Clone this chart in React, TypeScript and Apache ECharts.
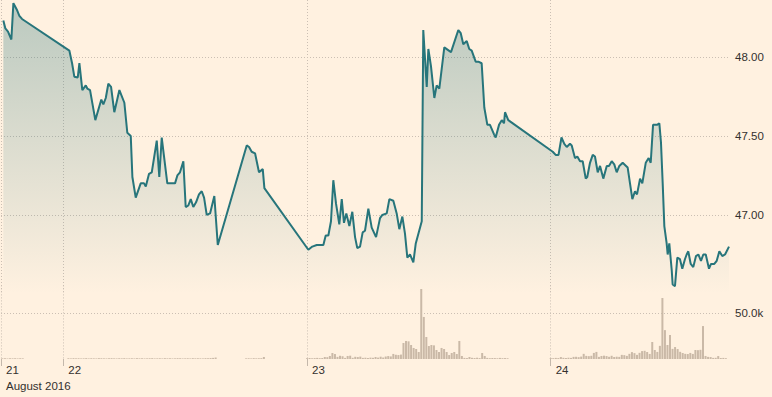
import React, { useEffect, useRef } from "react";
import * as echarts from "echarts";

// Time is expressed in hours counted from 21 Aug 2016 00:00.
const X_MIN = 17.86;
const X_MAX = 89.56;
const dayTicks = [X_MIN, 24, 48, 72];
const dayLabels = ["21", "22", "23", "24"];
const priceTicks = [47, 47.5, 48];
const volumeTicks = [50000];

// Price sessions: [hour, price]
const aug21Prices: [number, number][] = [
  [18.09, 48.23], [18.29, 48.18], [18.55, 48.16], [18.88, 48.11], [19.08, 48.34],
  [19.41, 48.3], [19.67, 48.26], [19.93, 48.24],
];
const aug22DayPrices: [number, number][] = [
  [24.59, 48.04], [24.86, 47.96], [25.08, 47.875], [25.42, 47.87], [25.58, 47.96],
  [25.87, 47.79], [26.21, 47.82], [26.36, 47.8], [26.63, 47.79], [27.15, 47.6],
  [27.74, 47.73], [27.94, 47.7], [28.18, 47.74], [28.43, 47.83], [28.7, 47.81],
  [29.02, 47.65], [29.52, 47.79], [30.01, 47.71], [30.3, 47.52], [30.64, 47.5],
  [30.8, 47.24], [31.13, 47.11], [31.62, 47.2], [31.95, 47.2], [32.12, 47.18],
  [32.44, 47.26], [32.71, 47.27], [33.2, 47.47], [33.45, 47.24], [33.69, 47.49],
  [34.24, 47.2], [34.58, 47.2], [35.0, 47.2], [35.23, 47.25], [35.49, 47.27],
  [35.82, 47.34], [36.05, 47.05], [36.31, 47.06], [36.55, 47.1], [36.8, 47.05],
  [37.07, 47.08], [37.36, 47.13], [37.63, 47.15], [37.86, 47.11], [38.12, 47.0],
  [38.45, 47.01], [38.87, 47.12], [39.21, 46.81],
];
const aug22EveningPrices: [number, number][] = [
  [42.06, 47.44], [42.29, 47.43], [42.55, 47.4], [42.88, 47.39], [43.27, 47.27],
  [43.64, 47.29], [43.8, 47.17],
];
const aug23Prices: [number, number][] = [
  [48.13, 46.78], [48.52, 46.8], [48.96, 46.81], [49.61, 46.81], [49.84, 46.87],
  [50.1, 46.87], [50.36, 46.96], [50.59, 47.22], [50.86, 47.07], [51.18, 46.94],
  [51.42, 47.1], [51.64, 46.95], [51.87, 47.01], [52.17, 46.93], [52.46, 47.02],
  [52.73, 46.86], [52.95, 46.79], [53.22, 46.8], [53.48, 46.89], [53.71, 46.9],
  [54.04, 47.04], [54.37, 46.92], [54.8, 46.86], [55.19, 46.98], [55.42, 47.0],
  [55.85, 47.01], [56.11, 47.1], [56.5, 47.09], [56.83, 47.01], [57.09, 46.91],
  [57.39, 46.99], [57.65, 46.88], [57.88, 46.73], [58.14, 46.75], [58.47, 46.7],
  [58.71, 46.82], [59.3, 46.96], [59.45, 48.17], [59.79, 47.81], [59.95, 48.05],
  [60.21, 47.94], [60.54, 47.74], [60.77, 47.82], [61.03, 47.8], [61.52, 48.06],
  [62.18, 48.03], [62.9, 48.17], [63.14, 48.15], [63.39, 48.08], [63.73, 48.1],
  [63.98, 48.05], [64.22, 48.04], [64.61, 47.97], [64.87, 47.97], [65.2, 47.96],
  [65.46, 47.68], [65.76, 47.57], [66.02, 47.57], [66.42, 47.51], [66.58, 47.49],
  [66.91, 47.57], [67.18, 47.6], [67.4, 47.58], [67.5, 47.65], [67.82, 47.6],
];
const aug24Prices: [number, number][] = [
  [72.2, 47.4], [72.49, 47.38], [72.77, 47.38], [73.06, 47.49], [73.34, 47.45],
  [73.58, 47.43], [73.9, 47.45], [74.07, 47.44], [74.39, 47.36], [74.62, 47.37],
  [74.89, 47.34], [75.15, 47.34], [75.45, 47.23], [75.6, 47.24], [75.87, 47.33],
  [76.14, 47.38], [76.36, 47.37], [76.63, 47.27], [76.86, 47.31], [77.18, 47.23],
  [77.52, 47.31], [77.74, 47.31], [78.01, 47.34], [78.26, 47.32], [78.5, 47.27],
  [78.76, 47.31], [79.09, 47.33], [79.42, 47.31], [79.58, 47.3], [79.81, 47.2],
  [80.04, 47.1], [80.3, 47.15], [80.5, 47.13], [80.8, 47.23], [81.02, 47.2],
  [81.36, 47.33], [81.65, 47.36], [81.85, 47.33], [82.08, 47.57], [82.47, 47.57],
  [82.7, 47.58], [82.86, 47.46], [83.03, 47.2], [83.19, 46.93], [83.42, 46.82],
  [83.52, 46.75], [83.68, 46.82], [83.92, 46.65], [84.01, 46.56], [84.24, 46.55],
  [84.47, 46.73], [84.73, 46.72], [84.96, 46.66], [85.22, 46.72], [85.39, 46.75],
  [85.55, 46.77], [85.79, 46.69], [86.04, 46.67], [86.31, 46.74], [86.54, 46.75],
  [86.8, 46.71], [87.03, 46.75], [87.27, 46.75], [87.59, 46.66], [87.79, 46.69],
  [88.11, 46.69], [88.35, 46.71], [88.61, 46.77], [88.9, 46.74], [89.17, 46.75],
  [89.56, 46.8],
];

// Volume: 15-minute bars, each session with its first bar's hour
const aug21VolumeStart = 18.0;
const aug21Volume = [700, 900, 600, 800, 700, 900, 600, 800, 700];
const aug22DayVolumeStart = 24.5;
const aug22DayVolume = [
  800, 600, 900, 700, 800, 600, 700, 900, 600, 800,
  700, 600, 900, 800, 700, 600, 800, 900, 700, 600,
  800, 700, 900, 600, 700, 800, 600, 900, 700, 800,
  600, 700, 800, 900, 600, 700, 800, 600, 900, 700,
  800, 600, 700, 900, 800, 600, 700, 800, 600, 900,
  700, 800, 700, 600, 900, 800, 1000, 1200, 1600,
];
const aug22EveningVolumeStart = 42.0;
const aug22EveningVolume = [700, 800, 600, 900, 700, 800, 900, 2200];
const aug23VolumeStart = 48.0;
const aug23Volume = [
  900, 1100, 800, 1000, 1200, 900, 1100, 2200, 2000, 3300,
  6500, 5400, 2300, 3500, 3000, 1200, 3300, 3600, 1300, 2400,
  2100, 2600, 1200, 1400, 1100, 1500, 1300, 2200, 1500, 2500,
  1600, 2700, 3200, 2800, 5500, 4600, 4300, 4800, 17400, 19600,
  19200, 15200, 12000, 10900, 7600, 76100, 45700, 23900, 14100, 15200,
  14800, 9800, 7600, 12000, 10900, 7600, 4300, 6500, 7600, 5400,
  19600, 3300, 1200, 1000, 2200, 1300, 1100, 1400, 1000, 6500,
  3300, 1200, 900, 1100, 1000, 800, 1200, 900, 1000, 800,
];
const aug24VolumeStart = 72.0;
const aug24Volume = [
  1100, 900, 1200, 1000, 2100, 1300, 1100, 1400, 1200, 2300,
  2400, 2000, 2600, 5600, 3400, 3100, 3500, 6600, 7700, 2300,
  3300, 3600, 3200, 2400, 3500, 2200, 2500, 2300, 4500, 4200,
  3400, 5600, 7500, 6400, 4500, 6700, 8600, 8900, 7600, 5500,
  18500, 9800, 7700, 14300, 66300, 31400, 15200, 26100, 11000, 13000,
  10800, 7800, 6500, 5600, 5400, 6600, 5500, 9800, 9600, 10000,
  35800, 3300, 2300, 2100, 1200, 1300, 3200, 1100, 1200, 900,
];

const FONT = '"Liberation Sans", Arial, Helvetica, sans-serif';
const TEXT = "#33302e";
const GRID = "#cbbfb3";
const BG = "#fff1e0";

function sessionBars(start: number, vols: number[]): [number, number][] {
  return vols.map((v, i) => [start + i * 0.25, v]);
}

export default function App() {
  const ref = useRef<HTMLDivElement>(null);
  useEffect(() => {
    if (!ref.current) return;
    const chart = echarts.init(ref.current, undefined, { renderer: "svg" });
    const priceData = [
      ...aug21Prices,
      ...aug22DayPrices,
      ...aug22EveningPrices,
      ...aug23Prices,
      ...aug24Prices,
    ];
    const volumeData = [
      ...sessionBars(aug21VolumeStart, aug21Volume),
      ...sessionBars(aug22DayVolumeStart, aug22DayVolume),
      ...sessionBars(aug22EveningVolumeStart, aug22EveningVolume),
      ...sessionBars(aug23VolumeStart, aug23Volume),
      ...sessionBars(aug24VolumeStart, aug24Volume),
    ];
    const dayLabel = (v: number) => {
      const i = dayTicks.findIndex((t) => Math.abs(t - v) < 0.01);
      return i >= 0 ? dayLabels[i] : "";
    };
    const splitLine = {
      show: true,
      lineStyle: { color: GRID, width: 1, type: [1, 2] },
    };
    const option: any = {
      animation: false,
      backgroundColor: BG,
      textStyle: { fontFamily: FONT },
      grid: [
        { left: 1, right: 43, top: 0, height: 294, containLabel: false, outerBoundsMode: "none" },
        { left: 1, right: 43, top: 285.4, height: 73.6, containLabel: false, outerBoundsMode: "none" },
      ],
      xAxis: [
        {
          type: "value",
          gridIndex: 0,
          min: X_MIN,
          max: X_MAX,
          axisLine: { show: false },
          axisTick: { show: false, customValues: dayTicks },
          axisLabel: { show: false, customValues: dayTicks },
          splitLine,
        },
        {
          type: "value",
          gridIndex: 1,
          min: X_MIN,
          max: X_MAX,
          axisLine: { show: false },
          axisTick: {
            show: true,
            customValues: dayTicks,
            length: 7,
            lineStyle: { color: "#c4b8ab", width: 1 },
          },
          axisLabel: {
            customValues: dayTicks,
            formatter: dayLabel,
            align: "left",
            padding: [0, 0, 0, 5],
            margin: 5,
            color: TEXT,
            fontSize: 11.5,
            fontFamily: FONT,
          },
          splitLine,
        },
      ],
      yAxis: [
        {
          type: "value",
          gridIndex: 0,
          position: "right",
          min: 46.5,
          max: 48.36,
          axisLine: { show: false },
          axisTick: { show: false, customValues: priceTicks },
          axisLabel: {
            customValues: priceTicks,
            formatter: (v: number) => v.toFixed(2),
            margin: 6,
            color: TEXT,
            fontSize: 11.5,
            fontFamily: FONT,
          },
          splitLine,
        },
        {
          type: "value",
          gridIndex: 1,
          position: "right",
          min: 0,
          max: 80000,
          axisLine: { show: false },
          axisTick: { show: false, customValues: volumeTicks },
          axisLabel: {
            customValues: volumeTicks,
            formatter: (v: number) => (v / 1000).toFixed(1) + "k",
            margin: 6,
            color: TEXT,
            fontSize: 11.5,
            fontFamily: FONT,
          },
          splitLine,
        },
      ],
      series: [
        {
          type: "bar",
          xAxisIndex: 1,
          yAxisIndex: 1,
          data: volumeData,
          barWidth: 2,
          itemStyle: { color: "#cab9a7" },
          silent: true,
        },
        {
          type: "line",
          xAxisIndex: 0,
          yAxisIndex: 0,
          data: priceData,
          symbol: "none",
          showSymbol: false,
          lineStyle: { color: "#27757b", width: 2 },
          areaStyle: {
            color: new echarts.graphic.LinearGradient(0, 0, 0, 1, [
              { offset: 0, color: "rgba(38,115,122,0.45)" },
              { offset: 1, color: "rgba(38,115,122,0)" },
            ]),
          },
          silent: true,
        },
      ],
      graphic: [
        {
          type: "text",
          left: 6,
          top: 380,
          style: { text: "August 2016", fill: TEXT, font: `11.5px ${FONT}` },
        },
      ],
    };
    chart.setOption(option);
    return () => chart.dispose();
  }, []);
  return (
    <div
      ref={ref}
      style={{ position: "fixed", left: 0, top: 0, width: 772, height: 397 }}
    />
  );
}
